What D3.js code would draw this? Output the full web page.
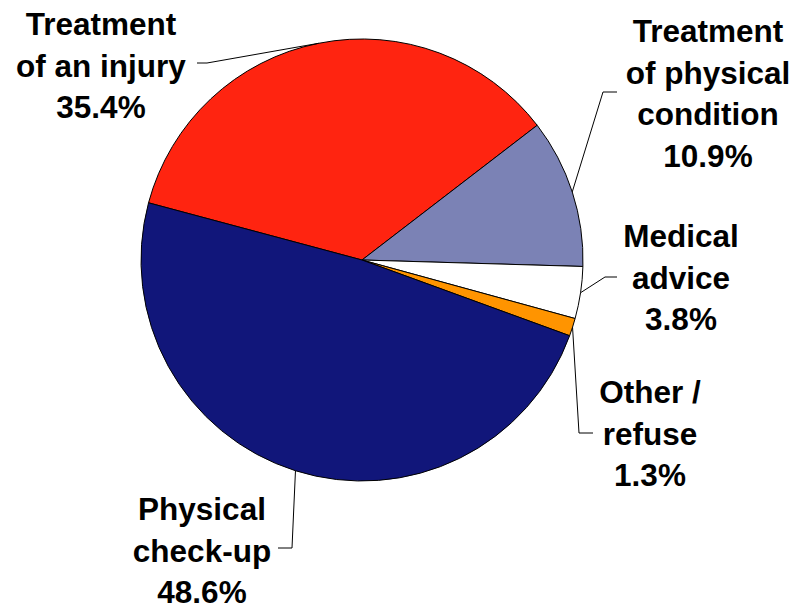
<!DOCTYPE html>
<html>
<head>
<meta charset="utf-8">
<script src="https://cdn.jsdelivr.net/npm/d3@7"></script>
<style>
  html, body { margin: 0; padding: 0; background: #fff; }
  svg { display: block; }
  .lbl { font-family: "Liberation Sans", Arial, sans-serif; font-weight: bold; font-size: 31.5px; fill: #000; }
</style>
</head>
<body>
<svg id="chart" width="795" height="607"></svg>
<script>
// Reason for the visit, share of respondents (%)
const categories = ["Treatment of an injury", "Treatment of physical condition", "Medical advice", "Other / refuse", "Physical check-up"];
const labelLines = [["Treatment", "of an injury"], ["Treatment", "of physical", "condition"], ["Medical", "advice"], ["Other /", "refuse"], ["Physical", "check-up"]];
const values = [35.4, 10.9, 3.8, 1.3, 48.6];
const colors = ["#FF2410", "#7B82B5", "#FFFFFF", "#FF9400", "#11167A"];

// Label placement: text centre x, first baseline y, leader elbow and leader end
const labelLayout = [
  { x: 101, y: 35,  elbow: [207, 63],  end: [197, 63] },
  { x: 708, y: 42,  elbow: [603, 92],  end: [617, 92] },
  { x: 681, y: 247, elbow: [605, 277], end: [617, 277] },
  { x: 650, y: 403, elbow: [579, 433], end: [593, 433] },
  { x: 202, y: 520, elbow: [292, 548], end: [278, 548] }
];

const cx = 362, cy = 260, radius = 221, lineHeight = 41.5;
const start = -75 * Math.PI / 180;

const svg = d3.select("#chart");
const g = svg.append("g").attr("transform", `translate(${cx},${cy})`);

const pie = d3.pie().sort(null).value(d => d).startAngle(start).endAngle(start + 2 * Math.PI);
const arcs = pie(values);
const arc = d3.arc().innerRadius(0).outerRadius(radius);

g.selectAll("path.slice")
  .data(arcs)
  .enter().append("path")
  .attr("class", "slice")
  .attr("d", arc)
  .attr("fill", (d, i) => colors[i])
  .attr("stroke", "#000")
  .attr("stroke-width", 1)
  .attr("stroke-linejoin", "round");

// Leader lines from each slice's outer edge midpoint to its label
svg.selectAll("polyline.leader")
  .data(arcs)
  .enter().append("polyline")
  .attr("class", "leader")
  .attr("fill", "none")
  .attr("stroke", "#000")
  .attr("stroke-width", 1)
  .attr("points", (d, i) => {
    const a = (d.startAngle + d.endAngle) / 2;
    const p0 = [cx + radius * Math.sin(a), cy - radius * Math.cos(a)];
    const L = labelLayout[i];
    return [p0, L.elbow, L.end].map(p => p.join(",")).join(" ");
  });

// Labels: category name lines followed by the percentage
const labels = svg.selectAll("text.lbl")
  .data(arcs)
  .enter().append("text")
  .attr("class", "lbl")
  .attr("text-anchor", "middle");

labels.each(function(d, i) {
  const t = d3.select(this);
  const L = labelLayout[i];
  const lines = labelLines[i].concat([d3.format(".1f")(values[i]) + "%"]);
  lines.forEach((s, k) => {
    t.append("tspan").attr("x", L.x).attr("y", L.y + k * lineHeight).text(s);
  });
});
</script>
</body>
</html>
